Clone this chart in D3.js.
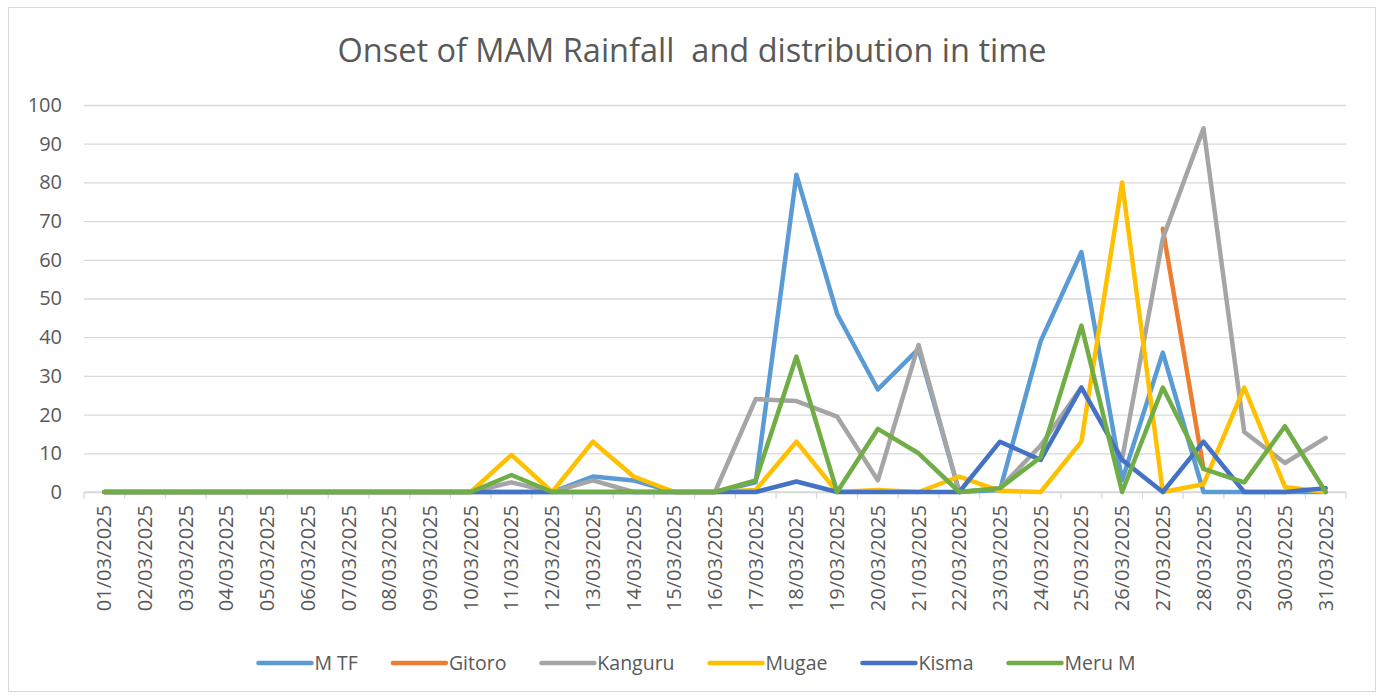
<!DOCTYPE html>
<html>
<head>
<meta charset="utf-8">
<script src="https://cdn.jsdelivr.net/npm/d3@7"></script>
<style>
  body { margin: 0; background: #fff; }
  text { font-family: "Open Sans", sans-serif; fill: #595959; }
</style>
</head>
<body>
<div id="chart"></div>
<script>
const dates = ["01/03/2025","02/03/2025","03/03/2025","04/03/2025","05/03/2025","06/03/2025","07/03/2025","08/03/2025","09/03/2025","10/03/2025",
  "11/03/2025","12/03/2025","13/03/2025","14/03/2025","15/03/2025","16/03/2025","17/03/2025","18/03/2025","19/03/2025","20/03/2025",
  "21/03/2025","22/03/2025","23/03/2025","24/03/2025","25/03/2025","26/03/2025","27/03/2025","28/03/2025","29/03/2025","30/03/2025","31/03/2025"];

const yTicks = [0, 10, 20, 30, 40, 50, 60, 70, 80, 90, 100];

// rainfall per station (mm); null = no record
const mTF     = [0,0,0,0,0,0,0,0,0,0, 0,0,4,3,0,0,2.5,82,46,26.5, 37,0,0.5,39,62,3,36,0,0,0,0];
const gitoro  = [null,null,null,null,null,null,null,null,null,null, null,null,null,null,null,null,null,null,null,null, null,null,null,null,null,null,68,6,null,null,null];
const kanguru = [0,0,0,0,0,0,0,0,0,0, 2.5,0,3,0,0,0,24,23.5,19.5,3, 38,0,1,12,27,8.5,65.5,94,15.5,7.5,14];
const mugae   = [0,0,0,0,0,0,0,0,0,0, 9.6,0,13,4,0,0,0.5,13,0,0.5, 0,4,0.3,0,13,80,0,2,27,1.3,0];
const kisma   = [0,0,0,0,0,0,0,0,0,0, 0,0,0,0,0,0,0,2.7,0,0, 0,0,13,8.3,27,8.3,0,13,0,0,1];
const meruM   = [0,0,0,0,0,0,0,0,0,0, 4.4,0,0,0,0,0,3,35,0,16.3, 10,0,1,9,43,0,27,6,2.5,17,0];

const seriesNames = ["M TF", "Gitoro", "Kanguru", "Mugae", "Kisma", "Meru M"];
const seriesValues = [mTF, gitoro, kanguru, mugae, kisma, meruM];
const colors = ["#5b9bd5", "#ed7d31", "#a5a5a5", "#ffc000", "#4472c4", "#70ad47"];

const W = 1384, H = 700;
const plotLeft = 84, plotRight = 1346, plotTop = 105, plotBottom = 492;

const svg = d3.select("#chart").append("svg")
    .attr("width", W)
    .attr("height", H);

// chart frame
svg.append("rect")
    .attr("x", 8.5).attr("y", 7.5)
    .attr("width", 1367).attr("height", 684)
    .attr("fill", "#fff")
    .attr("stroke", "#d9d9d9");

svg.append("text")
    .attr("x", 692).attr("y", 62)
    .attr("text-anchor", "middle")
    .style("font-size", "32.5px")
    .attr("xml:space", "preserve")
    .text("Onset of MAM Rainfall  and distribution in time");

const x = d3.scaleBand().domain(dates).range([plotLeft, plotRight]);
const y = d3.scaleLinear().domain([0, 100]).range([plotBottom, plotTop]);
const cx = d => x(d) + x.bandwidth() / 2;

// y grid + labels
const yAxis = svg.append("g")
    .attr("transform", "translate(" + plotLeft + ",0)")
    .call(d3.axisLeft(y).tickValues(yTicks).tickSize(-(plotRight - plotLeft)).tickPadding(22));
yAxis.select(".domain").remove();
yAxis.selectAll(".tick line").attr("stroke", "#d9d9d9").attr("stroke-width", 1.3);
yAxis.selectAll(".tick text").style("font-size", "20px").attr("fill", "#595959");

// x axis
const xAxis = svg.append("g")
    .attr("transform", "translate(0," + plotBottom + ")")
    .call(d3.axisBottom(x).tickSize(0).tickPadding(0));
xAxis.select(".domain").attr("stroke", "#d9d9d9").attr("stroke-width", 1.3)
    .attr("d", "M" + plotLeft + ",0H" + plotRight);
xAxis.selectAll(".tick text")
    .style("font-size", "20px")
    .attr("fill", "#595959")
    .attr("text-anchor", "end")
    .attr("dy", "0.35em")
    .attr("transform", "translate(0,13) rotate(-90)");

// boundary tick marks between categories
svg.append("g").selectAll("line")
    .data(dates.concat([null]))
    .join("line")
    .attr("x1", (d, i) => plotLeft + i * x.step())
    .attr("x2", (d, i) => plotLeft + i * x.step())
    .attr("y1", plotBottom).attr("y2", plotBottom + 7)
    .attr("stroke", "#d9d9d9").attr("stroke-width", 1.3);

// series lines
const line = d3.line()
    .defined(d => d.v != null)
    .x(d => cx(d.date))
    .y(d => y(d.v));

seriesValues.forEach((vals, k) => {
  svg.append("path")
      .datum(dates.map((date, i) => ({ date: date, v: vals[i] })))
      .attr("fill", "none")
      .attr("stroke", colors[k])
      .attr("stroke-width", 4.5)
      .attr("stroke-linejoin", "round")
      .attr("stroke-linecap", "round")
      .attr("d", line);
});

// legend
const legend = svg.append("g");
let lx = 0;
seriesNames.forEach((name, k) => {
  const item = legend.append("g").attr("transform", "translate(" + lx + ",0)");
  item.append("line")
      .attr("x1", 2).attr("x2", 55)
      .attr("stroke", colors[k]).attr("stroke-width", 4.5)
      .attr("stroke-linecap", "round");
  const t = item.append("text")
      .attr("x", 58).attr("dy", "0.35em")
      .style("font-size", "19.5px")
      .text(name);
  lx += 58 + t.node().getComputedTextLength() + 33;
});
const legendWidth = lx - 33;
legend.attr("transform", "translate(" + (696 - legendWidth / 2) + ",663)");
</script>
</body>
</html>
